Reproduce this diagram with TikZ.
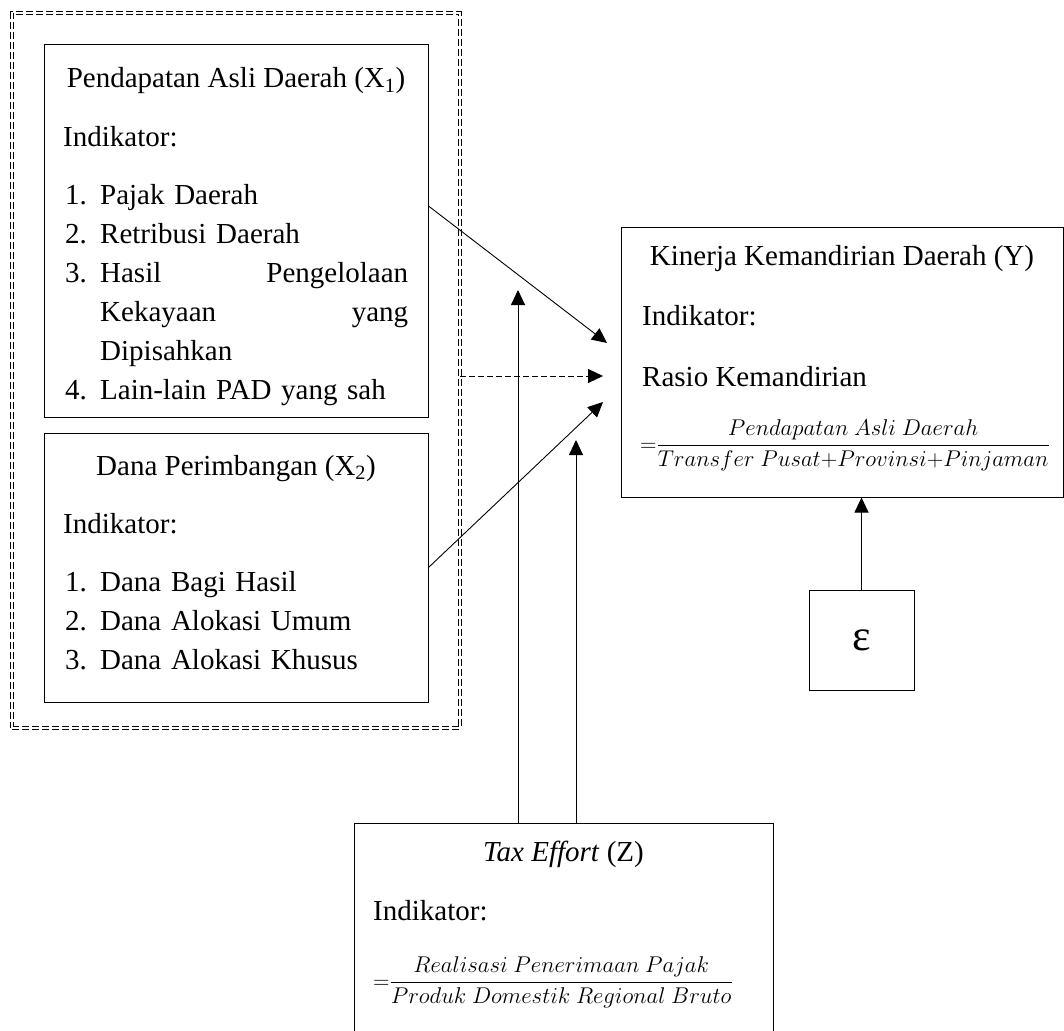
\RequirePackage{fix-cm}
\documentclass[tikz,border=0pt]{standalone}
\usepackage{amsmath}
\usepackage{fontspec}
\setmainfont{Liberation Serif}
\usepackage{tikz}
\usetikzlibrary{arrows.meta}
\tikzset{box/.style = {draw, line width = 1pt, inner sep = 0}}
\tikzset{group/.style = {draw, dashed, double, line width = 0.8pt, double distance = 2pt,
    dash pattern = on 7pt off 3pt, inner sep = 0}}
\tikzset{txt/.style = {anchor = base west, inner sep = 0}}
\tikzset{lst/.style = {txt, text width = 343pt, align = left}}
\tikzset{frac/.style = {txt, font = \fontsize{22.8}{27}\selectfont}}
\tikzset{arr/.style = {-{Triangle[length = 15pt, width = 14pt]}, line width = 0.9pt}}
\newcommand{\butir}[1]{\makebox[35pt][l]{#1}}

\begin{document}
\begin{tikzpicture}[x = 1pt, y = -1pt, font = \fontsize{29}{39}\selectfont]
      \useasboundingbox (0, 0) rectangle (1064, 1030);

      % kotak
      \node [group, minimum width = 448pt, minimum height = 715pt] (grp) at (236, 370.5) {};
      \node [box, minimum width = 384pt, minimum height = 372pt] (x1) at (236, 231) {};
      \node [box, minimum width = 384pt, minimum height = 269pt] (x2) at (236, 567.5) {};
      \node [box, minimum width = 442pt, minimum height = 270pt] (y) at (842, 362) {};
      \node [box, minimum width = 105pt, minimum height = 100pt] (eps) at (861.5, 640) {};
      \node [box, minimum width = 419pt, minimum height = 222pt] (z) at (563.5, 934) {};

      % X1
      \node [anchor = base, inner sep = 0] (x1title) at (236, 88) {Pendapatan Asli Daerah (X\textsubscript{1})};
      \node [txt] (x1ind) at (63, 146) {Indikator:};
      \node [lst] (x1list) at (65, 204) {\butir{1.}Pajak Daerah\\
        \butir{2.}Retribusi Daerah\\
        \butir{3.}Hasil\hfill Pengelolaan\\
        \butir{}Kekayaan\hfill yang\\
        \butir{}Dipisahkan\\
        \butir{4.}Lain-lain PAD yang sah};

      % X2
      \node [anchor = base, inner sep = 0] (x2title) at (236, 475) {Dana Perimbangan (X\textsubscript{2})};
      \node [txt] (x2ind) at (63, 533) {Indikator:};
      \node [lst] (x2list) at (65, 591) {\butir{1.}Dana Bagi Hasil\\
        \butir{2.}Dana Alokasi Umum\\
        \butir{3.}Dana Alokasi Khusus};

      % Y
      \node [anchor = base, inner sep = 0] (ytitle) at (842, 265) {Kinerja Kemandirian Daerah (Y)};
      \node [txt] (yind) at (642, 325) {Indikator:};
      \node [txt] (yrasio) at (642, 386) {Rasio Kemandirian};
      \node [frac] (yfrac) at (640, 451)
        {$\displaystyle{=}\frac{Pendapatan\ Asli\ Daerah}{Transfer\ Pusat{+}Provinsi{+}Pinjaman}$};

      % Z
      \node [anchor = base, inner sep = 0] (ztitle) at (563.5, 861) {\textit{Tax Effort} (Z)};
      \node [txt] (zind) at (373, 920) {Indikator:};
      \node [frac] (zfrac) at (373, 988)
        {$\displaystyle{=}\frac{Realisasi\ Penerimaan\ Pajak}{Produk\ Domestik\ Regional\ Bruto}$};

      \node [font = \fontsize{44}{48}\selectfont, inner sep = 0] (epstext) at (eps) {ε};

      % panah
      \coordinate (t1) at (607, 343);
      \coordinate (t2) at (603, 376);
      \coordinate (t3) at (603, 402);
      \coordinate (t4) at (518, 290);
      \coordinate (t5) at (576, 440);
      \draw [arr] ([yshift = 25pt] x1.east) -- (t1);
      \draw [arr, dash pattern = on 6pt off 3pt] ([yshift = -5.5pt] grp.east) -- (t2);
      \draw [arr] (x2.east) -- (t3);
      \draw [arr] ([xshift = -45.5pt] z.north) -- (t4);
      \draw [arr] ([xshift = 12.5pt] z.north) -- (t5);
      \draw [arr] (eps.north) -- (eps.north |- y.south);
    \end{tikzpicture}
\end{document}
